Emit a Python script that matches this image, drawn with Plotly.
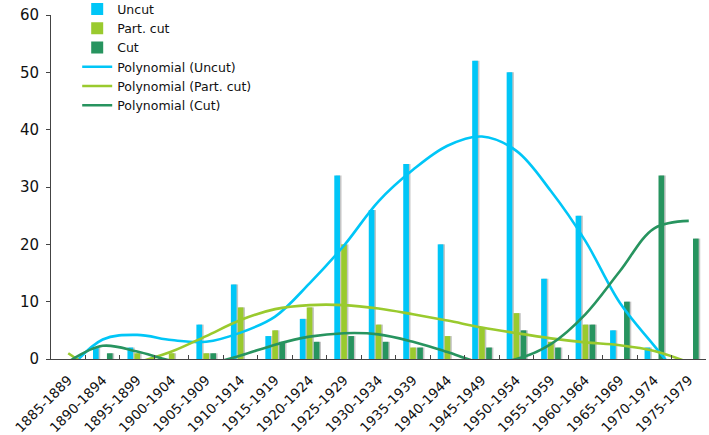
import plotly.graph_objects as go

categories = ["1885-1889", "1890-1894", "1895-1899", "1900-1904", "1905-1909",
              "1910-1914", "1915-1919", "1920-1924", "1925-1929", "1930-1934",
              "1935-1939", "1940-1944", "1945-1949", "1950-1954", "1955-1959",
              "1960-1964", "1965-1969", "1970-1974", "1975-1979"]

uncut = [0, 2, 2, 0, 6, 13, 4, 7, 32, 26, 34, 20, 52, 50, 14, 25, 5, 2, 0]
part_cut = [0, 0, 1, 1, 1, 9, 5, 9, 20, 6, 2, 4, 5.5, 8, 3, 6, 0, 0, 0]
cut = [0, 1, 0, 0, 1, 0, 3, 3, 4, 3, 2, 0, 2, 5, 2, 6, 10, 32, 21]

# trendline values at each category centre
poly_uncut = [-2.0, 3.4, 4.2, 3.3, 3.0, 4.6, 7.4, 13.2, 19.8, 27.5, 33.0, 37.2,
              38.8, 36.3, 29.3, 20.6, 9.8, 2.3, -5.0]
poly_part = [1.0, -2.0, -0.6, 1.3, 4.0, 6.8, 8.7, 9.4, 9.4, 8.8, 7.8, 6.7,
             5.5, 4.5, 3.6, 2.9, 2.4, 1.4, -0.6]
poly_cut = [-0.5, 2.3, 1.3, -0.3, -0.8, 0.6, 2.5, 3.9, 4.5, 4.3, 3.0, 1.2,
            -0.6, 0.0, 2.6, 7.8, 15.3, 22.8, 24.1]

C_UNCUT = "#00C6F7"
C_PART = "#9ACA2E"
C_CUT = "#27945F"
FONT = "DejaVu Sans"

bar_w = 0.165
shadow_dx = 0.045
offsets = [-0.2 - bar_w / 2, 0.0 - bar_w / 2, 0.205 - bar_w / 2]

fig = go.Figure()

series = [("Uncut", uncut, C_UNCUT), ("Part. cut", part_cut, C_PART), ("Cut", cut, C_CUT)]
for (name, vals, col), off in zip(series, offsets):
    fig.add_trace(go.Bar(x=categories, y=vals, width=bar_w, offset=off + shadow_dx,
                         marker=dict(color="rgba(150,150,150,0.55)", line=dict(width=0)),
                         showlegend=False, hoverinfo="skip"))
for (name, vals, col), off in zip(series, offsets):
    fig.add_trace(go.Bar(x=categories, y=vals, width=bar_w, offset=off, name=name,
                         marker=dict(color=col, line=dict(width=0))))

for name, vals, col in [("Polynomial (Uncut)", poly_uncut, C_UNCUT),
                        ("Polynomial (Part. cut)", poly_part, C_PART),
                        ("Polynomial (Cut)", poly_cut, C_CUT)]:
    fig.add_trace(go.Scatter(x=categories, y=vals, mode="lines", name=name,
                             line=dict(color=col, width=2.6, shape="spline", smoothing=1.0)))

fig.update_layout(
    width=709, height=435,
    margin=dict(l=51, r=3, t=15, b=76, autoexpand=False),
    barmode="overlay",
    plot_bgcolor="white", paper_bgcolor="white",
    font=dict(family=FONT, size=13, color="#111"),
    legend=dict(x=0.04, y=1.06, xanchor="left", yanchor="top",
                bgcolor="rgba(0,0,0,0)", itemwidth=30, tracegroupgap=0,
                font=dict(family=FONT, size=12.5, color="#111")),
    xaxis=dict(type="category", tickson="boundaries", ticks="inside", ticklen=4,
               tickcolor="#444", showline=True, linecolor="#444", linewidth=1,
               showgrid=False, tickangle=-45, ticklabelstandoff=7, automargin=False,
               tickfont=dict(family=FONT, size=13.5, color="#111")),
    yaxis=dict(range=[0, 60], dtick=10, ticks="outside", ticklen=4, tickcolor="#444",
               showline=True, linecolor="#444", linewidth=1, showgrid=False,
               zeroline=False, ticklabelstandoff=4, automargin=False,
               tickfont=dict(family=FONT, size=15, color="#111")),
)

fig.write_html("out.html")
